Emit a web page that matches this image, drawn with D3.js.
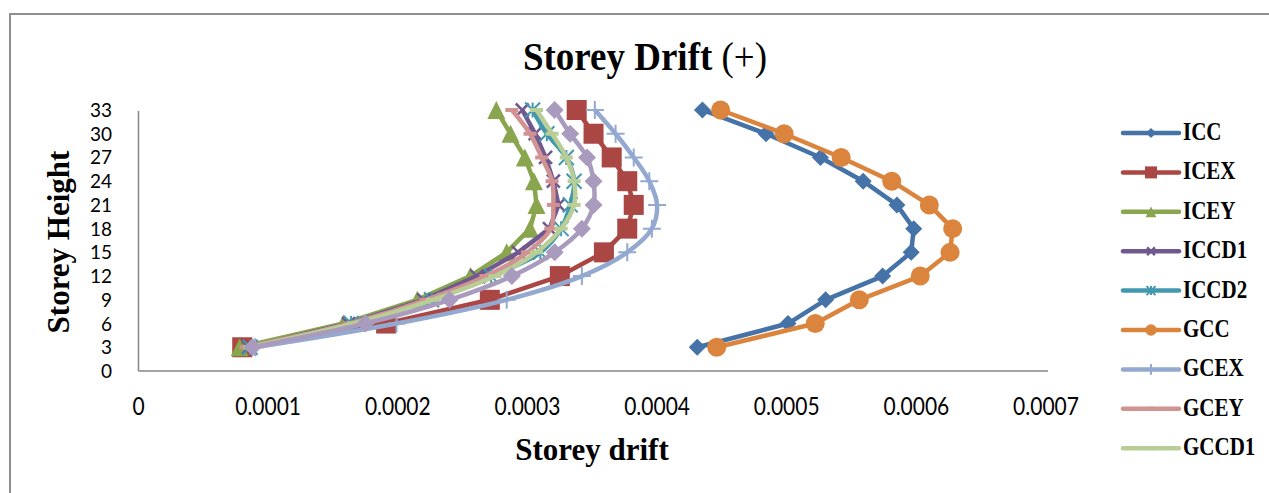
<!DOCTYPE html>
<html>
<head>
<meta charset="utf-8">
<script src="https://cdn.jsdelivr.net/npm/d3@7"></script>
<style>
  body { margin: 0; background: #fff; }
</style>
</head>
<body>
<div id="chart"></div>
<script>
// storey levels (y) and drift of each model (x)
var storeys = [3, 6, 9, 12, 15, 18, 21, 24, 27, 30, 33];
var ICC   = [0.000431, 0.000501, 0.000530, 0.000574, 0.000596, 0.000598, 0.000585, 0.000559, 0.000526, 0.000484, 0.000435];
var ICEX  = [0.000080, 0.000191, 0.000271, 0.000325, 0.000359, 0.000377, 0.000382, 0.000377, 0.000365, 0.000351, 0.000338];
var ICEY  = [0.000078, 0.000158, 0.000215, 0.000256, 0.000284, 0.000302, 0.000307, 0.000305, 0.000298, 0.000287, 0.000276];
var ICCD1 = [0.000085, 0.000162, 0.000220, 0.000261, 0.000293, 0.000317, 0.000324, 0.000320, 0.000314, 0.000306, 0.000296];
var ICCD2 = [0.000086, 0.000164, 0.000226, 0.000272, 0.000310, 0.000326, 0.000333, 0.000336, 0.000330, 0.000315, 0.000304];
var GCC   = [0.000446, 0.000522, 0.000556, 0.000603, 0.000626, 0.000628, 0.000610, 0.000581, 0.000542, 0.000498, 0.000449];
var GCEX  = [0.000090, 0.000199, 0.000284, 0.000342, 0.000377, 0.000396, 0.000400, 0.000394, 0.000382, 0.000368, 0.000352];
var GCEY  = [0.000083, 0.000163, 0.000222, 0.000268, 0.000300, 0.000318, 0.000320, 0.000319, 0.000311, 0.000302, 0.000288];
var GCCD1 = [0.000086, 0.000166, 0.000227, 0.000275, 0.000307, 0.000326, 0.000336, 0.000336, 0.000330, 0.000319, 0.000307];
var GCCD2 = [0.000088, 0.000175, 0.000240, 0.000288, 0.000321, 0.000342, 0.000351, 0.000351, 0.000346, 0.000333, 0.000321];

var seriesNames = ["ICC", "ICEX", "ICEY", "ICCD1", "ICCD2", "GCC", "GCEX", "GCEY", "GCCD1", "GCCD2"];
var seriesValues = [ICC, ICEX, ICEY, ICCD1, ICCD2, GCC, GCEX, GCEY, GCCD1, GCCD2];
var legendNames = ["ICC", "ICEX", "ICEY", "ICCD1", "ICCD2", "GCC", "GCEX", "GCEY", "GCCD1"];
var xTicks = [0, 0.0001, 0.0002, 0.0003, 0.0004, 0.0005, 0.0006, 0.0007];
var yTicks = [0, 3, 6, 9, 12, 15, 18, 21, 24, 27, 30, 33];

// look of each series
var colors  = ["#4572A7", "#AA4643", "#89A54E", "#71588F", "#4198AF", "#DB843D", "#93A9CF", "#D19392", "#B9CD96", "#A99BBD"];
var markers = ["diamond", "square", "triangle", "x", "star", "circle", "plus", "dash", "dash", "diamond"];
var msize   = [17, 20, 18, 13, 15, 19, 18, 13, 13, 18];
var smooth  = [false, false, false, false, true, false, true, true, true, true];

var width = 1269, height = 493;

var svg = d3.select("#chart").append("svg")
    .attr("width", width)
    .attr("height", height)
    .style("display", "block");

// outer chart border (runs off the picture on right and bottom)
svg.append("rect")
    .attr("x", 10).attr("y", 14)
    .attr("width", 1400).attr("height", 600)
    .attr("fill", "#fff")
    .attr("stroke", "#8e8e8e")
    .attr("stroke-width", 2);

var x = d3.scaleLinear().domain([0, 0.0007]).range([138.5, 1046]);
var y = d3.scaleLinear().domain([0, 33]).range([371, 110]);

// text that looks taller than wide in the reference
function tall(sel, px, py, k) {
  sel.attr("x", 0).attr("y", 0)
     .attr("transform", "translate(" + px + "," + py + ") scale(1," + k + ")");
  return sel;
}

// title
var title = svg.append("text")
    .attr("text-anchor", "middle")
    .style("font-family", "'Liberation Serif', 'Times New Roman', serif")
    .style("font-size", "37px")
    .style("font-weight", "bold");
title.append("tspan").text("Storey Drift ");
title.append("tspan").style("font-weight", "normal").text("(+)");
tall(title, 645, 70, 1.1);

// axes lines
svg.append("line")
    .attr("x1", x(0)).attr("x2", x(0.0007) + 2)
    .attr("y1", y(0)).attr("y2", y(0))
    .attr("stroke", "#868686").attr("stroke-width", 1.5);
svg.append("line")
    .attr("x1", x(0)).attr("x2", x(0))
    .attr("y1", y(0)).attr("y2", y(33) + 1)
    .attr("stroke", "#868686").attr("stroke-width", 1.5);

// tick labels
svg.append("g").selectAll("text")
    .data(xTicks)
    .enter().append("text")
    .attr("text-anchor", "middle")
    .style("font-family", "Lato, 'Open Sans', sans-serif")
    .style("font-size", "21px")
    .text(function(d) { return d === 0 ? "0" : d3.format(".4f")(d); })
    .each(function(d) { tall(d3.select(this), x(d), 415, 1.15); });

svg.append("g").selectAll("text")
    .data(yTicks)
    .enter().append("text")
    .attr("text-anchor", "end")
    .attr("x", 112)
    .attr("y", function(d) { return y(d) + 7; })
    .style("font-family", "Lato, 'Open Sans', sans-serif")
    .style("font-size", "19px")
    .text(function(d) { return d; });

// axis titles
tall(svg.append("text")
    .attr("text-anchor", "middle")
    .style("font-family", "'Liberation Serif', 'Times New Roman', serif")
    .style("font-size", "31px")
    .style("font-weight", "bold")
    .text("Storey drift"), 592, 460, 1.05);

svg.append("text")
    .attr("text-anchor", "middle")
    .attr("transform", "translate(69,242) rotate(-90)")
    .style("font-family", "'Liberation Serif', 'Times New Roman', serif")
    .style("font-size", "31px")
    .style("font-weight", "bold")
    .text("Storey Height");

// marker shapes
function drawMarker(g, type, s, color) {
  var h = s / 2;
  if (type === "diamond") {
    g.append("path").attr("d", "M0," + (-h) + "L" + h + ",0L0," + h + "L" + (-h) + ",0Z").attr("fill", color);
  } else if (type === "square") {
    g.append("rect").attr("x", -h).attr("y", -h).attr("width", s).attr("height", s).attr("fill", color);
  } else if (type === "triangle") {
    g.append("path").attr("d", "M0," + (-h) + "L" + h + "," + h + "L" + (-h) + "," + h + "Z").attr("fill", color);
  } else if (type === "circle") {
    g.append("circle").attr("r", h).attr("fill", color);
  } else if (type === "x") {
    g.append("path").attr("d", "M" + (-h) + "," + (-h) + "L" + h + "," + h + "M" + h + "," + (-h) + "L" + (-h) + "," + h)
      .attr("stroke", color).attr("stroke-width", 2.5);
  } else if (type === "star") {
    g.append("path").attr("d", "M" + (-h) + "," + (-h) + "L" + h + "," + h + "M" + h + "," + (-h) + "L" + (-h) + "," + h + "M0," + (-h) + "L0," + h)
      .attr("stroke", color).attr("stroke-width", 2);
  } else if (type === "plus") {
    g.append("path").attr("d", "M" + (-h) + ",0L" + h + ",0M0," + (-h) + "L0," + h)
      .attr("stroke", color).attr("stroke-width", 2);
  } else if (type === "dash") {
    g.append("rect").attr("x", -h).attr("y", -2).attr("width", s).attr("height", 4).attr("fill", color);
  }
}

var plot = svg.append("g");

seriesValues.forEach(function(vals, i) {
  var pts = vals.map(function(v, j) { return [v, storeys[j]]; });
  var line = d3.line()
      .x(function(d) { return x(d[0]); })
      .y(function(d) { return y(d[1]); })
      .curve(smooth[i] ? d3.curveCatmullRom.alpha(0.5) : d3.curveLinear);

  var sg = plot.append("g").attr("class", "series-" + seriesNames[i]);
  sg.append("path")
      .datum(pts)
      .attr("d", line)
      .attr("fill", "none")
      .attr("stroke", colors[i])
      .attr("stroke-width", 4.5)
      .attr("stroke-linejoin", "round");

  sg.selectAll("g.m")
      .data(pts)
      .enter().append("g")
      .attr("class", "m")
      .attr("transform", function(d) { return "translate(" + x(d[0]) + "," + y(d[1]) + ")"; })
      .each(function() { drawMarker(d3.select(this), markers[i], msize[i], colors[i]); });
});

// legend
var legend = svg.append("g");
legendNames.forEach(function(name, i) {
  var ly = 133 + i * 39.4;
  var lg = legend.append("g");
  lg.append("line")
      .attr("x1", 1123).attr("x2", 1179)
      .attr("y1", ly).attr("y2", ly)
      .attr("stroke", colors[i])
      .attr("stroke-width", 4.5)
      .attr("stroke-linecap", "round");
  var mg = lg.append("g").attr("transform", "translate(1151," + ly + ")");
  drawMarker(mg, markers[i], msize[i] * 0.6, colors[i]);
  tall(lg.append("text")
      .style("font-family", "'Liberation Serif', 'Times New Roman', serif")
      .style("font-size", "21px")
      .style("font-weight", "bold")
      .text(name), 1183, ly + 7, 1.2);
});
</script>
</body>
</html>
